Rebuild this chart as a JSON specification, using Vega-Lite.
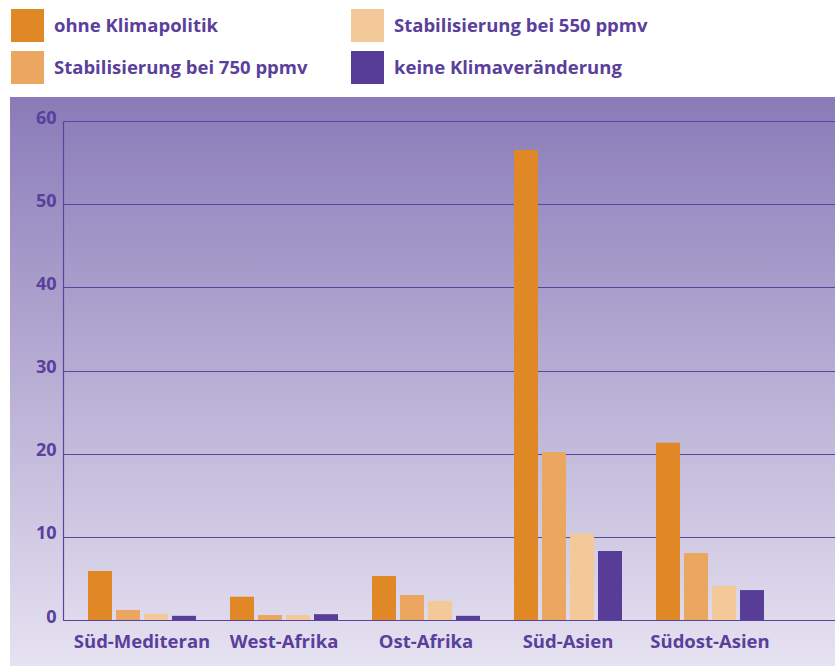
{
  "$schema": "https://vega.github.io/schema/vega-lite/v6.json",
  "autosize": {"type": "none"},
  "padding": {"left": 10, "top": 97, "right": 0, "bottom": 0},
  "width": 825,
  "height": 569,
  "background": "white",
  "config": {
    "view": {
      "stroke": null,
      "fill": {"gradient": "linear", "x1": 0, "y1": 0, "x2": 0, "y2": 1,
        "stops": [{"offset": 0, "color": "#8a7bb8"}, {"offset": 1, "color": "#e6e2f1"}]}
    },
    "font": "Open Sans"
  },
  "data": {
    "values": [
      {"region": "Süd-Mediteran", "szenario": "ohne Klimapolitik", "wert": 5.9},
      {"region": "Süd-Mediteran", "szenario": "Stabilisierung bei 750 ppmv", "wert": 1.2},
      {"region": "Süd-Mediteran", "szenario": "Stabilisierung bei 550 ppmv", "wert": 0.75},
      {"region": "Süd-Mediteran", "szenario": "keine Klimaveränderung", "wert": 0.5},
      {"region": "West-Afrika", "szenario": "ohne Klimapolitik", "wert": 2.8},
      {"region": "West-Afrika", "szenario": "Stabilisierung bei 750 ppmv", "wert": 0.6},
      {"region": "West-Afrika", "szenario": "Stabilisierung bei 550 ppmv", "wert": 0.6},
      {"region": "West-Afrika", "szenario": "keine Klimaveränderung", "wert": 0.7},
      {"region": "Ost-Afrika", "szenario": "ohne Klimapolitik", "wert": 5.3},
      {"region": "Ost-Afrika", "szenario": "Stabilisierung bei 750 ppmv", "wert": 3.0},
      {"region": "Ost-Afrika", "szenario": "Stabilisierung bei 550 ppmv", "wert": 2.3},
      {"region": "Ost-Afrika", "szenario": "keine Klimaveränderung", "wert": 0.5},
      {"region": "Süd-Asien", "szenario": "ohne Klimapolitik", "wert": 56.5},
      {"region": "Süd-Asien", "szenario": "Stabilisierung bei 750 ppmv", "wert": 20.2},
      {"region": "Süd-Asien", "szenario": "Stabilisierung bei 550 ppmv", "wert": 10.4},
      {"region": "Süd-Asien", "szenario": "keine Klimaveränderung", "wert": 8.3},
      {"region": "Südost-Asien", "szenario": "ohne Klimapolitik", "wert": 21.3},
      {"region": "Südost-Asien", "szenario": "Stabilisierung bei 750 ppmv", "wert": 8.05},
      {"region": "Südost-Asien", "szenario": "Stabilisierung bei 550 ppmv", "wert": 4.1},
      {"region": "Südost-Asien", "szenario": "keine Klimaveränderung", "wert": 3.6}
    ]
  },
  "mark": {"type": "bar"},
  "encoding": {
    "x": {
      "field": "region", "type": "nominal", "sort": null,
      "scale": {"range": [53, 825], "paddingInner": 0.23944, "paddingOuter": 0.33803, "align": 0.2604},
      "axis": {
        "title": null, "orient": "bottom", "offset": -46, "labelAngle": 0,
        "domain": true, "domainColor": "#5a44a0", "domainWidth": 1.2,
        "ticks": false, "labelPadding": 12,
        "labelFont": "Open Sans", "labelFontSize": 18.5, "labelFontWeight": "bold", "labelColor": "#5a3f9c"
      }
    },
    "xOffset": {
      "field": "szenario", "type": "nominal",
      "scale": {"domain": ["ohne Klimapolitik", "Stabilisierung bei 750 ppmv", "Stabilisierung bei 550 ppmv", "keine Klimaveränderung"], "paddingInner": 0.142857, "paddingOuter": 0}
    },
    "y": {
      "field": "wert", "type": "quantitative",
      "scale": {"domain": [0, 60], "range": [523, 24], "nice": false, "zero": false},
      "axis": {
        "title": null, "orient": "left", "offset": -53, "values": [0, 10, 20, 30, 40, 50, 60],
        "grid": true, "gridColor": "#5a44a0", "gridWidth": 1.2, "gridOpacity": 1,
        "domain": true, "domainColor": "#5a44a0", "domainWidth": 1.2,
        "ticks": false, "labelPadding": 7, "labelOffset": -3,
        "labelFont": "Open Sans", "labelFontSize": 18, "labelFontWeight": "bold", "labelColor": "#5a3f9c"
      }
    },
    "color": {
      "field": "szenario", "type": "nominal",
      "scale": {
        "domain": ["ohne Klimapolitik", "Stabilisierung bei 750 ppmv", "Stabilisierung bei 550 ppmv", "keine Klimaveränderung"],
        "range": ["#e08726", "#eba660", "#f3c99a", "#573d97"]
      },
      "legend": {
        "title": null, "orient": "none", "legendX": 1, "legendY": -88,
        "columns": 2, "columnPadding": 43, "rowPadding": 9,
        "symbolType": "square", "symbolSize": 1089, "symbolStrokeWidth": 0, "symbolOpacity": 1,
        "labelFont": "Open Sans", "labelFontSize": 18.5, "labelFontWeight": "bold", "labelColor": "#5a3f9c",
        "labelOffset": 10, "labelLimit": 400
      }
    }
  }
}
